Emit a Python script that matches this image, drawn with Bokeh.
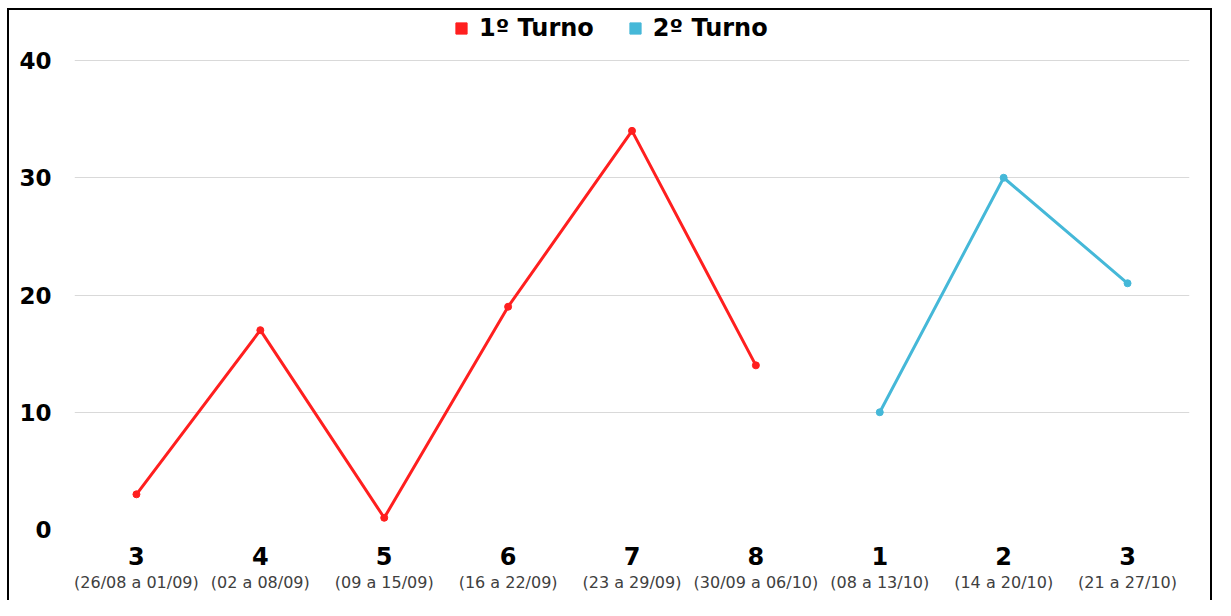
from bokeh.plotting import figure
from bokeh.models import (Range1d, FixedTicker, LinearAxis, Legend, LegendItem,
                          ColumnDataSource, Grid)
from bokeh.embed import file_html
from bokeh.resources import INLINE

weeks = ["3", "4", "5", "6", "7", "8", "1", "2", "3"]
periods = ["(26/08 a 01/09)", "(02 a 08/09)", "(09 a 15/09)", "(16 a 22/09)",
           "(23 a 29/09)", "(30/09 a 06/10)", "(08 a 13/10)", "(14 a 20/10)",
           "(21 a 27/10)"]
turno1_values = [3, 17, 1, 19, 34, 14]
turno2_values = [10, 30, 21]
y_ticks = [0, 10, 20, 30, 40]

RED = "#FF1F1F"
BLUE = "#45B8D8"
BOLD_FONT = "DejaVu Sans"
FONT = "DejaVu Sans"

W, H = 1215, 600
FL, FR, FB = 74, 1189, 529   # frame left/right/bottom (canvas px); frame reaches the top
Y_TOP = 40 * FB / (FB - 60)  # leaves room above the 40 line for the legend

x1 = list(range(len(turno1_values)))
x2 = list(range(len(turno1_values), len(turno1_values) + len(turno2_values)))

p = figure(width=W, height=H, output_backend="svg", toolbar_location=None,
           x_range=Range1d(-0.5, len(weeks) - 0.5), y_range=Range1d(0, Y_TOP),
           x_axis_location=None, y_axis_location=None)
for g in p.grid:
    g.visible = False
# a range that maps the legend-swatch renderers far outside the visible area
p.extra_y_ranges = {"swatch": Range1d(1000, 1001)}
p.min_border_left = FL
p.min_border_right = W - FR
p.min_border_top = 0
p.min_border_bottom = H - FB
p.outline_line_color = None
p.border_fill_color = None
p.background_fill_color = None
# black outline of the chart picture (left, top, right), drawn behind the canvas
p.styles = {
    "background-color": "white",
    "box-shadow": ("inset 7px 0 0 0 white, inset 0 8px 0 0 white, "
                   "inset -3px 0 0 0 white, "
                   "inset 9px 0 0 0 black, inset 0 10px 0 0 black, "
                   "inset -5px 0 0 0 black"),
}

def strip(ax):
    ax.axis_line_color = None
    ax.major_tick_line_color = None
    ax.minor_tick_line_color = None
    ax.major_tick_out = 0
    ax.major_tick_in = 0
    ax.minor_tick_out = 0
    ax.minor_tick_in = 0

# y axis
yaxis = LinearAxis(ticker=FixedTicker(ticks=y_ticks))
strip(yaxis)
yaxis.major_label_text_font = BOLD_FONT
yaxis.major_label_text_font_style = "bold"
yaxis.major_label_text_font_size = "23px"
yaxis.major_label_text_color = "black"
yaxis.major_label_standoff = 23
p.add_layout(yaxis, "left")

# x axes: week number (bold) and period (below)
xaxis1 = LinearAxis(ticker=FixedTicker(ticks=list(range(len(weeks)))),
                    major_label_overrides={i: w for i, w in enumerate(weeks)})
strip(xaxis1)
xaxis1.major_label_text_font = BOLD_FONT
xaxis1.major_label_text_font_style = "bold"
xaxis1.major_label_text_font_size = "24px"
xaxis1.major_label_text_color = "black"
xaxis1.major_label_standoff = 17
p.add_layout(xaxis1, "below")

xaxis2 = LinearAxis(ticker=FixedTicker(ticks=list(range(len(periods)))),
                    major_label_overrides={i: s for i, s in enumerate(periods)})
strip(xaxis2)
xaxis2.major_label_text_font = FONT
xaxis2.major_label_text_font_size = "16px"
xaxis2.major_label_text_color = "#404040"
xaxis2.major_label_standoff = 5
p.add_layout(xaxis2, "below")

grid = Grid(dimension=1, ticker=FixedTicker(ticks=[t for t in y_ticks if t > 0]),
            grid_line_color="#d9d9d9", grid_line_width=1)
p.add_layout(grid)

src1 = ColumnDataSource(dict(x=x1, y=turno1_values))
src2 = ColumnDataSource(dict(x=x2, y=turno2_values))
p.line("x", "y", source=src1, line_color=RED, line_width=3)
p.scatter("x", "y", source=src1, size=7, color=RED)
p.line("x", "y", source=src2, line_color=BLUE, line_width=3)
p.scatter("x", "y", source=src2, size=7, color=BLUE)

# square markers used only as legend swatches (mapped off-screen)
leg1 = p.scatter("x", "y", source=src1, marker="square", size=11, color=RED,
                 y_range_name="swatch")
leg2 = p.scatter("x", "y", source=src2, marker="square", size=11, color=BLUE,
                 y_range_name="swatch")
legend = Legend(items=[LegendItem(label="1º Turno", renderers=[leg1], index=0),
                       LegendItem(label="2º Turno", renderers=[leg2], index=0)],
                orientation="horizontal", location=(373, FB - 42),
                label_text_font=BOLD_FONT, label_text_font_style="bold",
                label_text_font_size="24px", label_text_color="black",
                glyph_width=28, glyph_height=28, spacing=27,
                border_line_color=None, background_fill_alpha=0,
                padding=0, margin=0, label_standoff=4)
p.add_layout(legend)

open("out.html", "w").write(file_html(p, INLINE))
